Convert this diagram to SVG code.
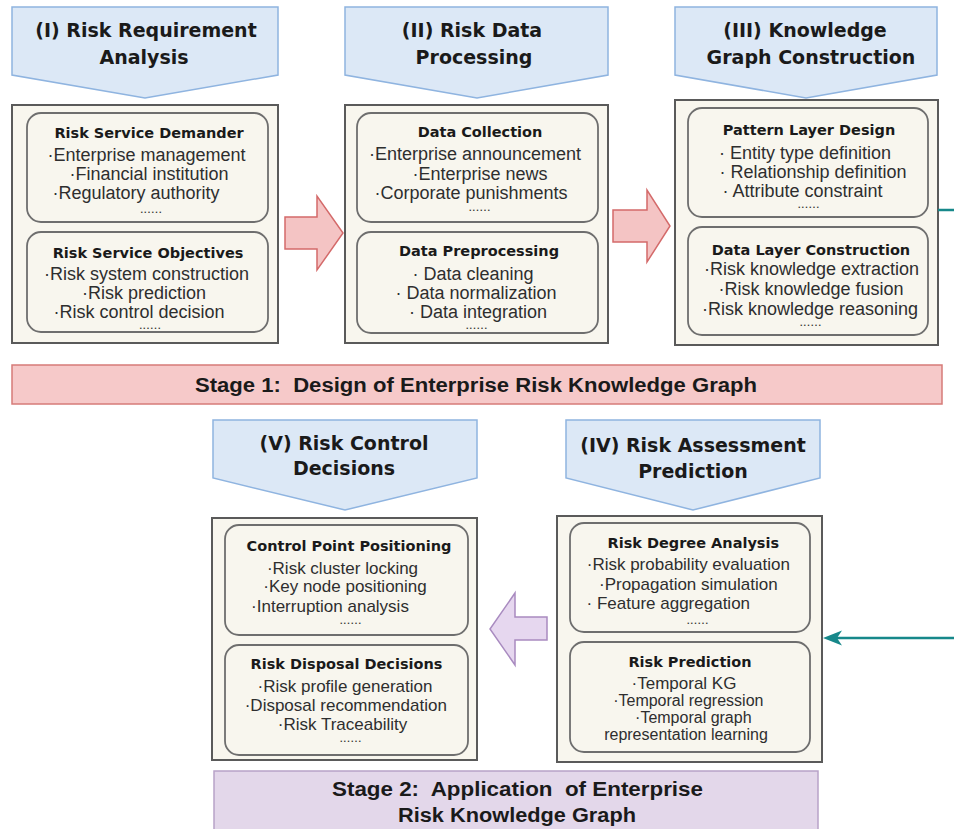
<svg xmlns="http://www.w3.org/2000/svg" width="954" height="829" viewBox="0 0 954 829">
<defs>
<style>
.bn{fill:#dce8f6;stroke:#8fb4e0;stroke-width:1.5}
.ob{fill:#f8f6ee;stroke:#5a5a5a;stroke-width:2}
.ib{fill:#f8f6ee;stroke:#6e6e6e;stroke-width:1.8}
.tt{font-family:"DejaVu Sans",Verdana,sans-serif;font-weight:bold;font-size:19px;fill:#1a1a1a;text-anchor:middle}
.hd{font-family:"DejaVu Sans",Verdana,sans-serif;font-weight:bold;font-size:14.5px;fill:#1a1a1a;text-anchor:middle}
.bl{font-family:"Liberation Sans",Arial,sans-serif;font-size:18px;fill:#2e2e2e;text-anchor:middle}
.b2{font-family:"Liberation Sans",Arial,sans-serif;font-size:17px;fill:#2e2e2e;text-anchor:middle}
.b3{font-family:"Liberation Sans",Arial,sans-serif;font-size:16px;fill:#2e2e2e;text-anchor:middle}
.dt{font-family:"Liberation Sans",Arial,sans-serif;font-size:9px;font-weight:bold;fill:#333;text-anchor:middle;letter-spacing:1.2px}
.st{font-family:"Liberation Sans",Arial,sans-serif;font-weight:bold;font-size:20px;fill:#1a1a1a;text-anchor:middle}
.pk{fill:#f4c4c4;stroke:#d46a6a;stroke-width:1.5}
.pu{fill:#e6d7ef;stroke:#a98bc0;stroke-width:1.5}
.tl{stroke:#17888a;stroke-width:2.5;fill:none}
</style>
</defs>
<rect width="954" height="829" fill="#ffffff"/>

<g id="stage1">
<rect x="12" y="365" width="930" height="39" fill="#f6c9c9" stroke="#d67b78" stroke-width="1.5"/>
<text class="st" x="476" y="392" textLength="562" lengthAdjust="spacingAndGlyphs" xml:space="preserve">Stage 1:  Design of Enterprise Risk Knowledge Graph</text>
</g>

<g id="stage2">
<rect x="214" y="771" width="604" height="70" fill="#e3d7ea" stroke="#b8a2c8" stroke-width="1.5"/>
<text class="st" x="517.5" y="796" textLength="371" lengthAdjust="spacingAndGlyphs" xml:space="preserve">Stage 2:  Application  of Enterprise</text>
<text class="st" x="517" y="822" textLength="238" lengthAdjust="spacingAndGlyphs">Risk Knowledge Graph</text>
</g>

<g id="banner1">
<polygon class="bn" points="12,7 278,7 278,75 145,98 12,75"/>
<text class="tt" x="146" y="37">(I) Risk Requirement</text>
<text class="tt" x="144" y="64">Analysis</text>
</g>
<g id="banner2">
<polygon class="bn" points="345,7 608,7 608,75 477,98 345,75"/>
<text class="tt" x="472" y="37">(II) Risk Data</text>
<text class="tt" x="474" y="64">Processing</text>
</g>
<g id="banner3">
<polygon class="bn" points="675,7 937,7 937,75 806,98 675,75"/>
<text class="tt" x="805" y="37">(III) Knowledge</text>
<text class="tt" x="811" y="64">Graph Construction</text>
</g>
<g id="banner5">
<polygon class="bn" points="213,420 477,420 477,478 345,510 213,478"/>
<text class="tt" x="344" y="450">(V) Risk Control</text>
<text class="tt" x="344" y="475">Decisions</text>
</g>
<g id="banner4">
<polygon class="bn" points="566,420 820,420 820,478 693,510 566,478"/>
<text class="tt" x="693" y="452">(IV) Risk Assessment</text>
<text class="tt" x="693" y="478">Prediction</text>
</g>

<g id="box1">
<rect class="ob" x="12" y="105" width="266" height="238"/>
<rect class="ib" x="27" y="113" width="241" height="109" rx="14"/>
<text class="hd" x="149" y="138">Risk Service Demander</text>
<text class="bl" x="146.5" y="161">·Enterprise management</text>
<text class="bl" x="149" y="180">·Financial institution</text>
<text class="bl" x="136" y="198.5">·Regulatory authority</text>
<text class="dt" x="151.5" y="213">......</text>
<rect class="ib" x="27" y="232" width="241" height="100" rx="14"/>
<text class="hd" x="148" y="258">Risk Service Objectives</text>
<text class="bl" x="146.5" y="279.5">·Risk system construction</text>
<text class="bl" x="144" y="298.5">·Risk prediction</text>
<text class="bl" x="139" y="317.5">·Risk control decision</text>
<text class="dt" x="150.5" y="329">......</text>
</g>

<g id="box2">
<rect class="ob" x="345" y="105" width="263" height="238"/>
<rect class="ib" x="357" y="113" width="241" height="109" rx="14"/>
<text class="hd" x="480" y="137">Data Collection</text>
<text class="bl" x="475" y="160">·Enterprise announcement</text>
<text class="bl" x="480" y="179.5">·Enterprise news</text>
<text class="bl" x="471" y="199">·Corporate punishments</text>
<text class="dt" x="480" y="211">......</text>
<rect class="ib" x="357" y="232" width="241" height="101" rx="14"/>
<text class="hd" x="479" y="256">Data Preprocessing</text>
<text class="bl" x="473" y="279.5">· Data cleaning</text>
<text class="bl" x="476" y="298.5">· Data normalization</text>
<text class="bl" x="478" y="317.5">· Data integration</text>
<text class="dt" x="477" y="329">......</text>
</g>

<g id="box3">
<rect class="ob" x="675" y="100" width="263" height="245"/>
<rect class="ib" x="688" y="108" width="240" height="109" rx="14"/>
<text class="hd" x="809" y="135">Pattern Layer Design</text>
<text class="bl" x="805" y="158.5">· Entity type definition</text>
<text class="bl" x="813" y="178">· Relationship definition</text>
<text class="bl" x="802.5" y="197">· Attribute constraint</text>
<text class="dt" x="809" y="208">......</text>
<rect class="ib" x="688" y="227" width="240" height="108" rx="14"/>
<text class="hd" x="811" y="254.5">Data Layer Construction</text>
<text class="bl" x="811.5" y="275">·Risk knowledge extraction</text>
<text class="bl" x="811" y="295">·Risk knowledge fusion</text>
<text class="bl" x="810" y="315">·Risk knowledge reasoning</text>
<text class="dt" x="811" y="326">......</text>
</g>

<g id="box5">
<rect class="ob" x="212" y="518" width="265" height="242"/>
<rect class="ib" x="225" y="525" width="243" height="110" rx="14"/>
<text class="hd" x="349" y="551">Control Point Positioning</text>
<text class="b2" x="342.5" y="573.5">·Risk cluster locking</text>
<text class="b2" x="345" y="592">·Key node positioning</text>
<text class="b2" x="330" y="612">·Interruption analysis</text>
<text class="dt" x="351" y="624">......</text>
<rect class="ib" x="225" y="645" width="243" height="110" rx="14"/>
<text class="hd" x="346.5" y="668.5">Risk Disposal Decisions</text>
<text class="b2" x="345" y="692">·Risk profile generation</text>
<text class="b2" x="345.8" y="711">·Disposal recommendation</text>
<text class="b2" x="342.5" y="730">·Risk Traceability</text>
<text class="dt" x="351" y="742">......</text>
</g>

<g id="box4">
<rect class="ob" x="557" y="516" width="265" height="246"/>
<rect class="ib" x="570" y="523" width="240" height="109" rx="14"/>
<text class="hd" x="693.3" y="547.5">Risk Degree Analysis</text>
<text class="b2" x="688.3" y="570">·Risk probability evaluation</text>
<text class="b2" x="688.3" y="590">·Propagation simulation</text>
<text class="b2" x="668.3" y="608.5">· Feature aggregation</text>
<text class="dt" x="698" y="624">......</text>
<rect class="ib" x="570" y="642" width="240" height="110" rx="14"/>
<text class="hd" x="690" y="667">Risk Prediction</text>
<text class="b2" x="684" y="688.5">·Temporal KG</text>
<text class="b3" x="688.3" y="706">·Temporal regression</text>
<text class="b3" x="693.3" y="723">·Temporal graph</text>
<text class="b3" x="686" y="740">representation learning</text>
</g>

<g id="connectors">
<polygon class="pk" points="285,217 317,217 317,196 343,233 317,270 317,249 285,249"/>
<polygon class="pk" points="613,210 647,210 647,190 670,226 647,262 647,242 613,242"/>
<polygon class="pu" points="547,617 515,617 515,593 490,629 515,665 515,640 547,640"/>
<line class="tl" x1="938" y1="210" x2="954" y2="210"/>
<line class="tl" x1="954" y1="638" x2="832" y2="638"/>
<path d="M823,638 L842,630.5 L837,638 L842,645.5 Z" fill="#17888a"/>
</g>
</svg>
